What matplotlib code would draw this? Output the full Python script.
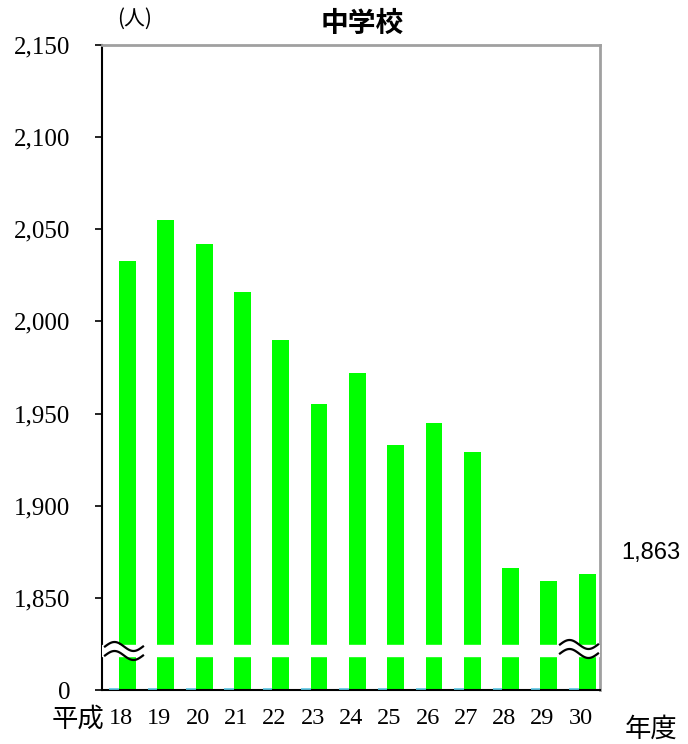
import matplotlib.pyplot as plt
import numpy as np

plt.rcParams["font.family"] = ["Noto Sans CJK JP", "DejaVu Sans"]

# data
years = ["18", "19", "20", "21", "22", "23", "24", "25", "26", "27", "28", "29", "30"]
students = [2033, 2055, 2042, 2016, 1990, 1955, 1972, 1933, 1945, 1929, 1866, 1859, 1863]
y_ticks = [1800, 1850, 1900, 1950, 2000, 2050, 2100, 2150]
y_tick_labels = ["0", "1,850", "1,900", "1,950", "2,000", "2,050", "2,100", "2,150"]
last_label = "1,863"

BASE = 1800
GAP = (1818.5, 1824.5)
GREEN = "#00ff00"
SERIF = ["Liberation Serif", "DejaVu Serif"]
W, H = 688, 744

fig = plt.figure(figsize=(W / 100, H / 100), dpi=100)
ax = fig.add_axes([102 / W, 1 - 690 / H, 498 / W, 645 / H])

x = np.arange(len(years))
ax.bar(x + 0.165, [v - BASE for v in students], bottom=BASE, width=0.44, color=GREEN, zorder=2)
# empty second series, shows only as a thin cyan edge on the baseline
ax.bar(x - 0.18, [0] * len(years), bottom=BASE + 0.6, width=0.25, color="none",
       edgecolor="#5bc8e6", linewidth=1.2, zorder=2.6, clip_on=False)
# break band
ax.axhspan(GAP[0], GAP[1], color="white", zorder=3)

ax.set_xlim(-0.5, len(years) - 0.5)
ax.set_ylim(BASE, 2150)
ax.set_yticks(y_ticks, y_tick_labels, family=SERIF, fontsize=18)
ax.set_xticks(x, years, family=SERIF, fontsize=17.5)
ax.tick_params(axis="y", direction="out", length=5, width=1.2, pad=18)
ax.tick_params(axis="x", length=0, pad=13)

for side in ["top", "right"]:
    ax.spines[side].set_color("#a0a0a0")
    ax.spines[side].set_linewidth(2)
for side in ["left", "bottom"]:
    ax.spines[side].set_color("black")
    ax.spines[side].set_linewidth(1.5)


def px(xp, yp):
    return xp / W, 1 - yp / H


# break marks
for x0, x1, yc in [(105, 143, 651), (560, 598, 649)]:
    t = np.linspace(0, 1, 60)
    xs = x0 + (x1 - x0) * t
    for off in (-4.5, 4.5):
        ys = yc + off - 4.5 * np.sin(2 * np.pi * t)
        fx, fy = px(xs, ys)
        fig.add_artist(plt.Line2D(fx, fy, color="black", linewidth=1.6, zorder=5))

fig.text(*px(362, 24), "中学校", ha="center", va="center", fontsize=20, fontweight="bold")
fig.text(*px(135, 19), "(人)", ha="center", va="center", fontsize=15)
fig.text(*px(651, 553), last_label, ha="center", va="center", fontsize=17,
         family=["Liberation Sans", "DejaVu Sans"])
fig.text(*px(78, 719), "平成", ha="center", va="center", fontsize=19)
fig.text(*px(651, 729), "年度", ha="center", va="center", fontsize=19)

fig.savefig("out.png", dpi=100, facecolor="white")
